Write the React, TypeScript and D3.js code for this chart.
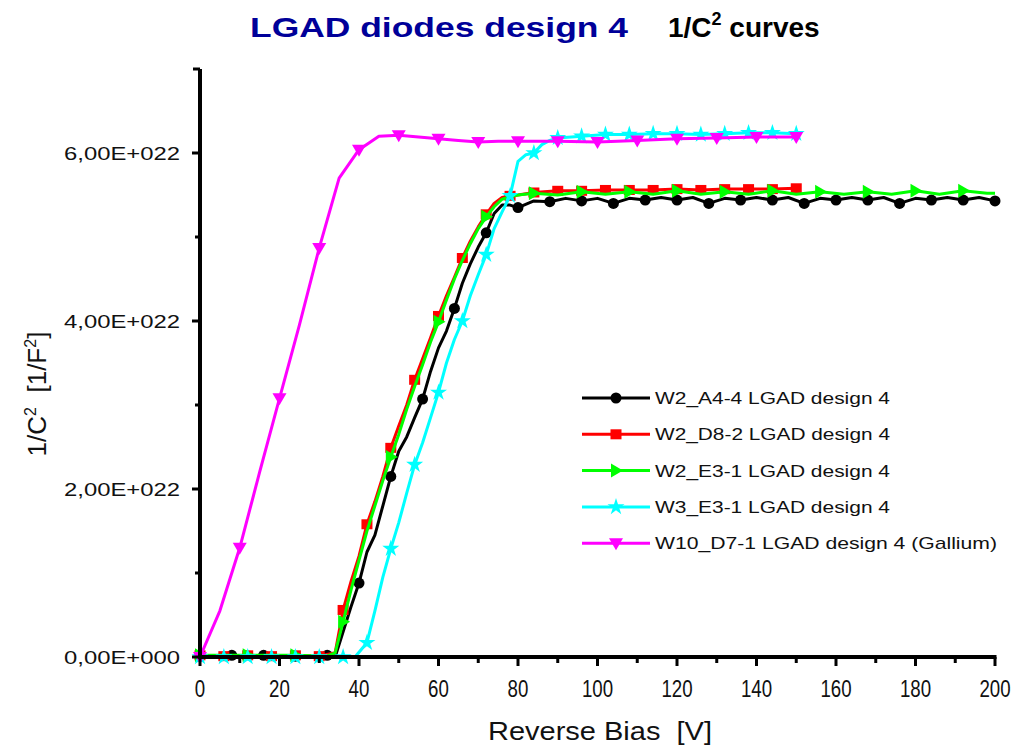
import React from "react";
import * as d3 from "d3";

// ---------- data (values in 1/F^2) ----------
const blackV = [0, 4, 8, 12, 16, 20, 24, 28, 32, 34, 36, 38, 40, 42, 44, 46, 48, 50, 52, 54, 56, 58, 60, 62, 64, 66, 68, 70, 72, 74, 76, 78, 80, 84, 88, 92, 96, 100, 104, 108, 112, 116, 120, 124, 128, 132, 136, 140, 144, 148, 152, 156, 160, 164, 168, 172, 176, 180, 184, 188, 192, 196, 200];
const blackY = [0.01, 0.0, 0.02, 0.0, 0.02, 0.0, 0.01, 0.0, 0.02, 0.0, 0.3, 0.6, 0.88, 1.25, 1.45, 1.8, 2.15, 2.45, 2.62, 2.85, 3.07, 3.4, 3.68, 3.88, 4.15, 4.45, 4.68, 4.88, 5.05, 5.28, 5.38, 5.38, 5.35, 5.43, 5.42, 5.46, 5.43, 5.46, 5.4, 5.46, 5.44, 5.47, 5.44, 5.47, 5.4, 5.46, 5.44, 5.47, 5.44, 5.47, 5.4, 5.46, 5.44, 5.47, 5.44, 5.47, 5.4, 5.46, 5.44, 5.47, 5.44, 5.47, 5.43].map((v) => v * 1e22);

const redV = [0, 6, 12, 18, 24, 30, 34, 36, 38, 40, 42, 44, 46, 48, 50, 52, 54, 56, 58, 60, 62, 64, 66, 68, 70, 72, 74, 76, 78, 80, 84, 90, 96, 102, 108, 114, 120, 126, 132, 138, 144, 150];
const redY = [0.02, 0.01, 0.02, 0.01, 0.02, 0.01, 0.05, 0.56, 0.9, 1.2, 1.58, 1.85, 2.15, 2.49, 2.75, 3.0, 3.3, 3.55, 3.8, 4.06, 4.3, 4.52, 4.75, 4.95, 5.12, 5.27, 5.4, 5.47, 5.49, 5.5, 5.53, 5.55, 5.55, 5.56, 5.56, 5.56, 5.57, 5.56, 5.57, 5.57, 5.57, 5.58].map((v) => v * 1e22);

const greenV = [0, 12, 24, 32, 34, 36, 38, 40, 42, 44, 46, 48, 50, 52, 54, 56, 58, 60, 62, 64, 66, 68, 70, 72, 74, 76, 78, 80, 84, 90, 96, 102, 108, 114, 120, 126, 132, 138, 144, 150, 156, 162, 168, 174, 180, 186, 192, 198, 200];
const greenY = [0.02, 0.02, 0.02, 0.01, 0.05, 0.42, 0.8, 1.15, 1.5, 1.8, 2.1, 2.38, 2.65, 2.95, 3.22, 3.48, 3.75, 3.99, 4.25, 4.5, 4.72, 4.92, 5.1, 5.24, 5.36, 5.45, 5.48, 5.5, 5.52, 5.5, 5.54, 5.51, 5.54, 5.51, 5.55, 5.51, 5.54, 5.51, 5.55, 5.51, 5.54, 5.51, 5.54, 5.51, 5.55, 5.51, 5.55, 5.52, 5.52].map((v) => v * 1e22);

const cyanV = [0, 6, 12, 18, 24, 30, 36, 39, 42, 44, 46, 48, 50, 52, 54, 56, 58, 60, 62, 64, 66, 68, 70, 72, 74, 76, 78, 80, 82, 84, 86, 88, 90, 96, 102, 108, 114, 120, 126, 132, 138, 144, 150];
const cyanY = [0.0, 0.0, 0.0, 0.0, 0.0, 0.0, 0.0, 0.0, 0.17, 0.55, 0.95, 1.29, 1.6, 1.95, 2.29, 2.55, 2.85, 3.15, 3.5, 3.78, 4.0, 4.3, 4.55, 4.79, 5.1, 5.3, 5.49, 5.9, 5.98, 6.0, 6.1, 6.15, 6.18, 6.2, 6.22, 6.22, 6.23, 6.23, 6.22, 6.23, 6.24, 6.24, 6.23].map((v) => v * 1e22);

const magentaV = [0, 5, 10, 15, 20, 25, 30, 35, 40, 45, 50, 55, 60, 65, 70, 75, 80, 90, 100, 110, 120, 130, 140, 150];
const magentaY = [0.0, 0.55, 1.3, 2.2, 3.08, 3.95, 4.87, 5.7, 6.04, 6.2, 6.21, 6.19, 6.17, 6.15, 6.13, 6.14, 6.14, 6.14, 6.13, 6.15, 6.17, 6.18, 6.19, 6.19].map((v) => v * 1e22);

const seriesNames = [
  "W2_A4-4 LGAD design 4",
  "W2_D8-2 LGAD design 4",
  "W2_E3-1 LGAD design 4",
  "W3_E3-1 LGAD design 4",
  "W10_D7-1 LGAD design 4 (Gallium)",
];

const xTicks = [0, 20, 40, 60, 80, 100, 120, 140, 160, 180, 200];
const xMinorTicks = [10, 30, 50, 70, 90, 110, 130, 150, 170, 190];
const yTicks = [0, 2e22, 4e22, 6e22];
const yTickLabels = ["0,00E+000", "2,00E+022", "4,00E+022", "6,00E+022"];
const yMinorTicks = [1e22, 3e22, 5e22];

// ---------- styles ----------
const styles = [
  { color: "#000000", marker: "circle", step: 8 },
  { color: "#ff0000", marker: "square", step: 6 },
  { color: "#00ff00", marker: "triRight", step: 12 },
  { color: "#00ffff", marker: "star", step: 6 },
  { color: "#ff00ff", marker: "triDown", step: 10 },
];

const seriesData = [
  { v: blackV, y: blackY },
  { v: redV, y: redY },
  { v: greenV, y: greenY },
  { v: cyanV, y: cyanY },
  { v: magentaV, y: magentaY },
];

const FONT = "'Liberation Sans', Arial, Helvetica, sans-serif";

function Marker({ type, x, y, color }: { type: string; x: number; y: number; color: string }) {
  if (type === "circle") return <circle cx={x} cy={y} r={5.5} fill={color} />;
  if (type === "square") return <rect x={x - 5.5} y={y - 5} width={11} height={10} fill={color} />;
  if (type === "triRight")
    return <path d={`M${x - 5},${y - 7}L${x + 7},${y}L${x - 5},${y + 7}Z`} fill={color} />;
  if (type === "triDown")
    return <path d={`M${x - 7},${y - 5}L${x + 7},${y - 5}L${x},${y + 7}Z`} fill={color} />;
  if (type === "star") {
    const sym = d3.symbol().type(d3.symbolStar).size(90)();
    return <path d={sym as string} transform={`translate(${x},${y})`} fill={color} />;
  }
  return null;
}

export default function App() {
  const W = 1016;
  const H = 749;
  const x = d3.scaleLinear().domain([0, 200]).range([200, 995]);
  const y = d3.scaleLinear().domain([0, 7e22]).range([657, 69]);

  const line = d3
    .line<[number, number]>()
    .x((d) => x(d[0]))
    .y((d) => y(d[1]));

  const order = [0, 1, 2, 3, 4];

  return (
    <svg width={W} height={H} style={{ position: "absolute", left: 0, top: 0, background: "#fff" }} fontFamily={FONT}>
      <rect x={0} y={0} width={W} height={H} fill="#fff" />
      {/* title */}
      <text x={250} y={37} fontSize={27} fontWeight="bold" fill="#000099" textLength={378} lengthAdjust="spacingAndGlyphs">
        LGAD diodes design 4
      </text>
      <text x={668} y={37} fontSize={28} fontWeight="bold" fill="#000">
        1/C<tspan dy={-12} fontSize={18}>2</tspan>
        <tspan dy={12}> curves</tspan>
      </text>

      {/* series */}
      {order.map((i) => {
        const s = seriesData[i];
        const st = styles[i];
        const pts: [number, number][] = s.v.map((v, k) => [v, s.y[k]]);
        return (
          <g key={i}>
            <path d={line(pts) as string} fill="none" stroke={st.color} strokeWidth={3} strokeLinejoin="round" />
            {pts
              .filter((p) => p[0] % st.step === 0)
              .map((p, k) => (
                <Marker key={k} type={st.marker} x={x(p[0])} y={y(p[1])} color={st.color} />
              ))}
          </g>
        );
      })}

      {/* axes */}
      <line x1={x(0)} x2={x(0)} y1={y(7e22)} y2={y(0) + 1.5} stroke="#000" strokeWidth={4} />
      <line x1={x(0) - 1.5} x2={x(200) + 1.5} y1={y(0)} y2={y(0)} stroke="#000" strokeWidth={4} />
      <line x1={x(0) - 7} x2={x(0)} y1={y(7e22)} y2={y(7e22)} stroke="#000" strokeWidth={3} />
      {yTicks.map((t, i) => (
        <g key={t}>
          <line x1={x(0) - 8} x2={x(0)} y1={y(t)} y2={y(t)} stroke="#000" strokeWidth={3} />
          <text x={180} y={y(t) + 7} fontSize={19} textAnchor="end" fill="#111" textLength={116} lengthAdjust="spacingAndGlyphs">
            {yTickLabels[i]}
          </text>
        </g>
      ))}
      {yMinorTicks.map((t) => (
        <line key={t} x1={x(0) - 5} x2={x(0)} y1={y(t)} y2={y(t)} stroke="#000" strokeWidth={3} />
      ))}
      {xTicks.map((t) => (
        <g key={t}>
          <line x1={x(t)} x2={x(t)} y1={y(0)} y2={y(0) + 9} stroke="#000" strokeWidth={3} />
          <text x={x(t)} y={697} fontSize={22} textAnchor="middle" fill="#111" transform={`translate(${x(t)},697) scale(0.85,1.05) translate(${-x(t)},-697)`}>
            {t}
          </text>
        </g>
      ))}
      {xMinorTicks.map((t) => (
        <line key={t} x1={x(t)} x2={x(t)} y1={y(0)} y2={y(0) + 6} stroke="#000" strokeWidth={3} />
      ))}

      {/* axis titles */}
      <text x={600} y={740} fontSize={26} textAnchor="middle" fill="#111" textLength={224} lengthAdjust="spacingAndGlyphs" xmlSpace="preserve">
        Reverse Bias  [V]
      </text>
      <text transform="translate(46,394) rotate(-90)" fontSize={26} textAnchor="middle" fill="#111" xmlSpace="preserve">
        1/C<tspan dy={-10} fontSize={16}>2</tspan>
        <tspan dy={10}>{"  [1/F"}</tspan>
        <tspan dy={-10} fontSize={16}>2</tspan>
        <tspan dy={10}>]</tspan>
      </text>

      {/* legend */}
      {seriesNames.map((name, i) => {
        const ly = 398 + i * 36.3;
        const st = styles[i];
        return (
          <g key={name}>
            <line x1={582} x2={650} y1={ly} y2={ly} stroke={st.color} strokeWidth={3} />
            <Marker type={st.marker} x={616} y={ly} color={st.color} />
            <text x={655} y={ly + 6} fontSize={17} fill="#111" textLength={i === 4 ? 342 : 235} lengthAdjust="spacingAndGlyphs">
              {name}
            </text>
          </g>
        );
      })}
    </svg>
  );
}
